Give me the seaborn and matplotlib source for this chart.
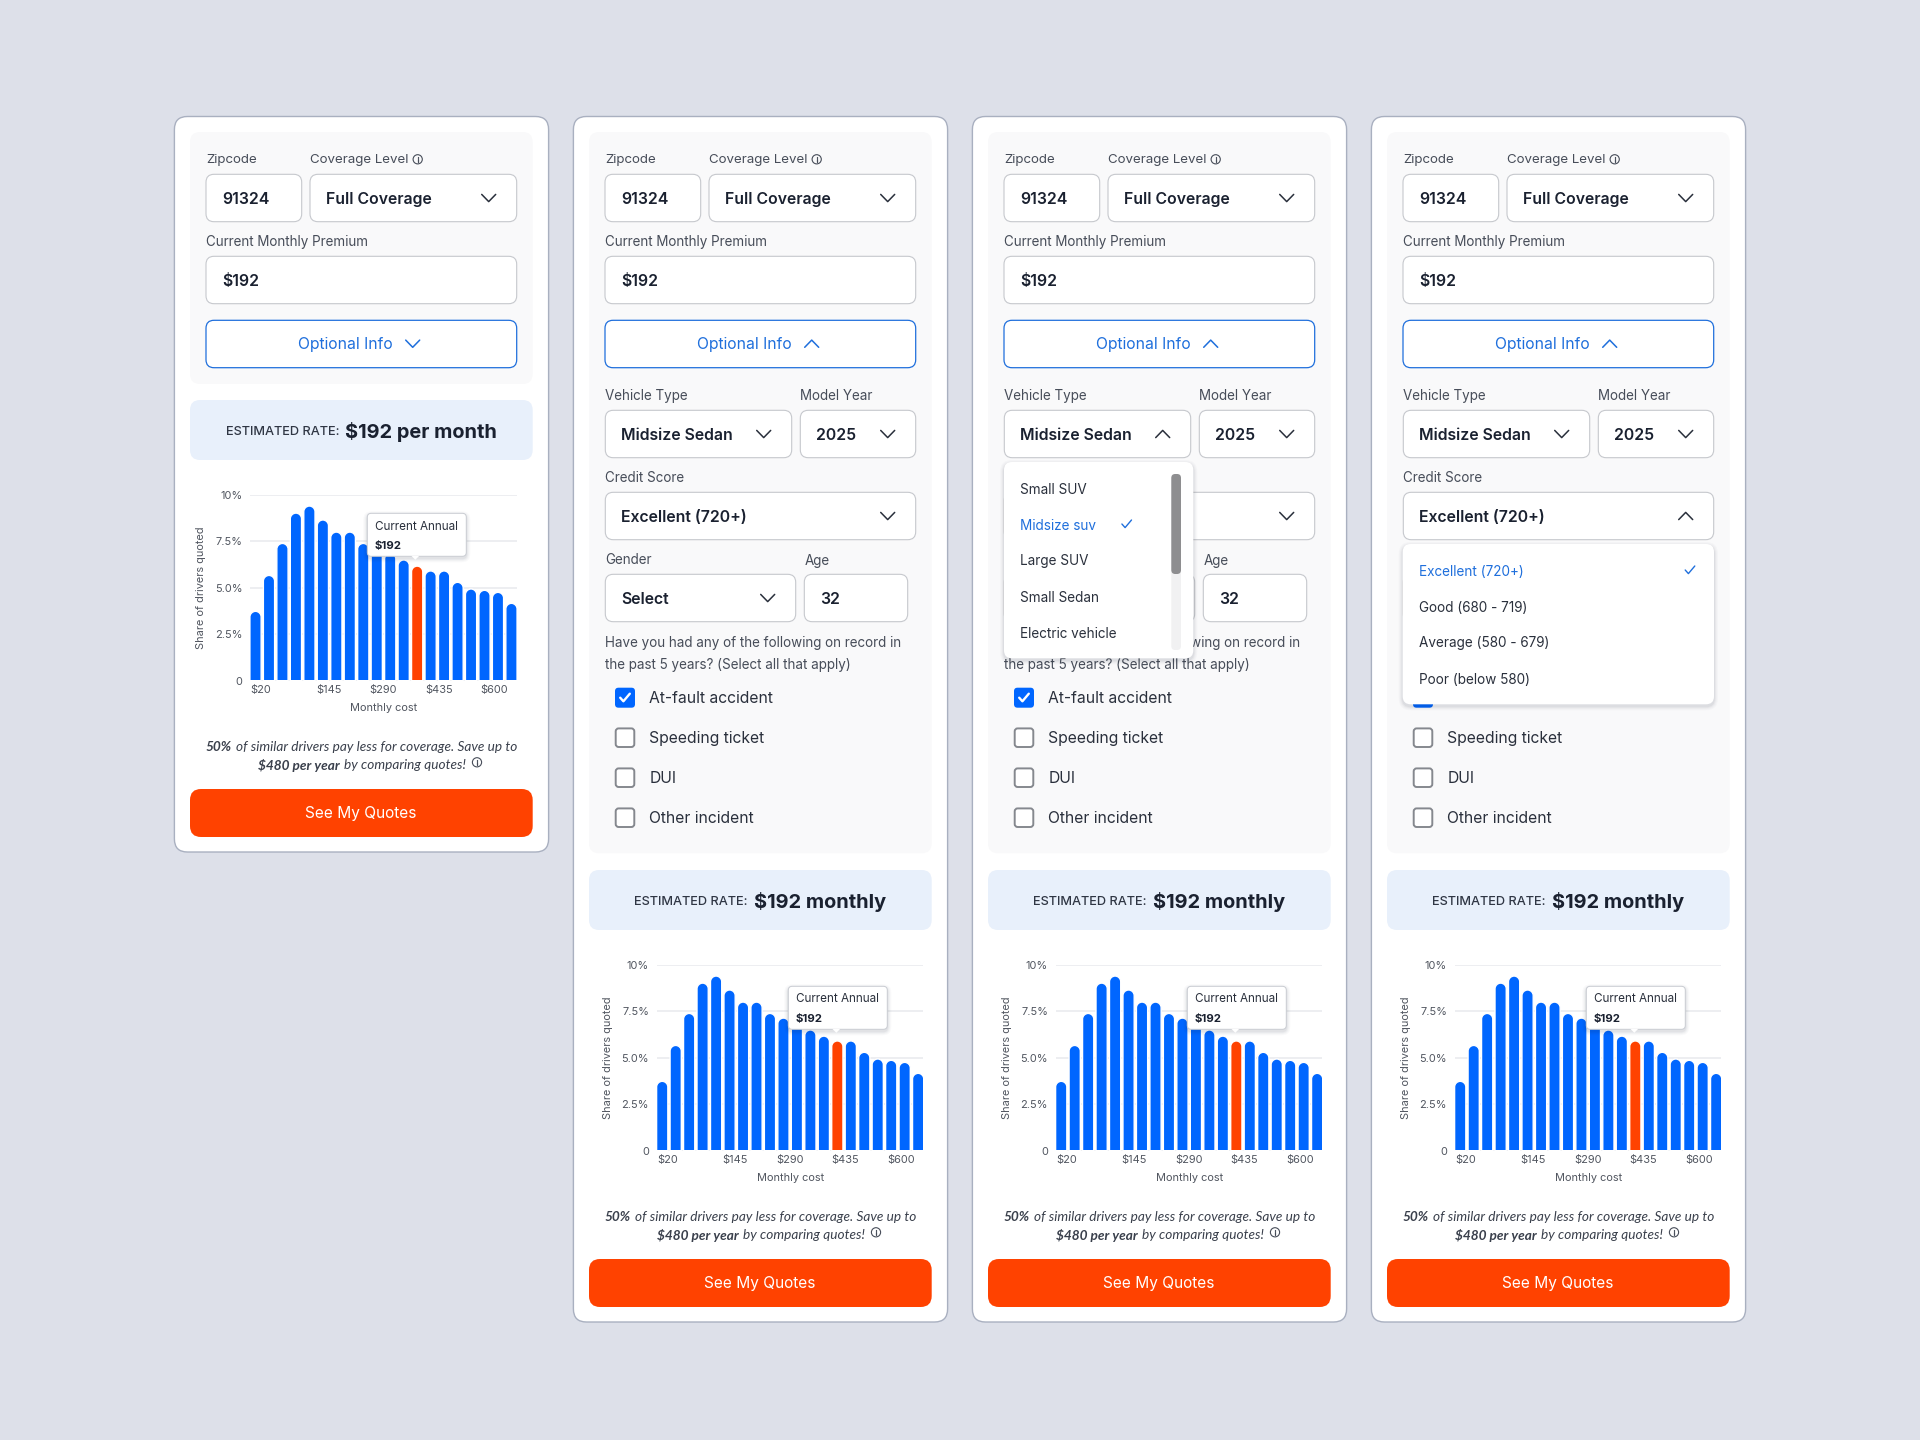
import pandas as pd
import seaborn as sns
import matplotlib
matplotlib.use('Agg')
import matplotlib.pyplot as plt
from matplotlib.patches import FancyBboxPatch, Polygon, Circle
from matplotlib.path import Path

# chart values
share_pct = [3.73, 5.66, 7.38, 9.01, 9.39, 8.64, 7.99, 7.99, 7.38, 7.13,
             6.85, 6.49, 6.16, 5.90, 5.90, 5.29, 4.93, 4.86, 4.75, 4.16]
ytick_values = [0, 2.5, 5, 7.5, 10]
ytick_labels = ['0', '2.5%', '5.0%', '7.5%', '10%']
xtick_labels = ['$20', '$145', '$290', '$435', '$600']

vehicle_options = ['Small SUV', 'Midsize suv', 'Large SUV', 'Small Sedan', 'Electric vehicle']
credit_options = ['Excellent (720+)', 'Good (680 - 719)', 'Average (580 - 679)', 'Poor (below 580)']
incidents = ['At-fault accident', 'Speeding ticket', 'DUI', 'Other incident']
question = ['Have you had any of the following on record in', 'the past 5 years? (Select all that apply)']

BG = '#dde0e9'
BORDER = '#a9b0c0'
PANEL = '#f9f9fa'
FIELD = '#c6c8cd'
DARK = '#1a2130'
LABEL = '#474d59'
AXIS = '#50555f'
BLUE = '#0066ff'
LINK = '#1f6fdc'
BANNER = '#e8f0fb'
ORANGE = '#ff4200'
GRID = '#e8eaee'
NOTE = '#3a404c'

sns.set_theme(style='white')
plt.rcParams['font.family'] = ['Inter', 'Lato', 'DejaVu Sans']

fig = plt.figure(figsize=(19.2, 14.4), dpi=100, facecolor=BG)


def overlay(z):
    a = fig.add_axes([0, 0, 1, 1], zorder=z)
    a.set_xlim(0, 1920)
    a.set_ylim(1440, 0)
    a.axis('off')
    return a


ui = overlay(1)
top = overlay(5)


def box(a, x0, y0, x1, y1, r, fc, ec='none', lw=0, z=1, alpha=None):
    p = FancyBboxPatch((x0 + r, y0 + r), x1 - x0 - 2 * r, y1 - y0 - 2 * r,
                       boxstyle=f'round,pad={r},rounding_size={r}',
                       fc=fc, ec=ec, lw=lw, zorder=z, alpha=alpha)
    a.add_patch(p)
    return p


def shadow(a, x0, y0, x1, y1, r, z):
    for grow, al in [(4, .02), (3, .025), (2, .035), (1, .05)]:
        box(a, x0 - grow, y0 - grow + 2, x1 + grow, y1 + grow + 2, r + grow, '#20283a', z=z, alpha=al)


def txt(a, x, y, s, size=9.7, color=LABEL, weight='normal', z=3, **kw):
    kw.setdefault('va', 'center')
    return a.text(x, y + 1.2, s, fontsize=size, color=color, fontweight=weight, zorder=z, **kw)


def chevron(a, x, y, up=False, color='#2a303c', z=3):
    d = -3.6 if up else 3.6
    a.plot([x - 7, x, x + 7], [y - d, y + d, y - d], color=color, lw=1.1, zorder=z,
           solid_capstyle='round', solid_joinstyle='round')


def tick(a, x, y, color, size=1.0, lw=1.0, z=3):
    a.plot([x - 6 * size, x - 2 * size, x + 6 * size], [y, y + 4.5 * size, y - 5 * size],
           color=color, lw=lw, zorder=z, solid_capstyle='round')


def info(a, x, y, color=LABEL, z=3):
    a.add_patch(Circle((x, y), 4.6, fc='none', ec=color, lw=.8, zorder=z))
    a.plot([x, x], [y - .6, y + 2.4], color=color, lw=.9, zorder=z)
    a.plot([x, x], [y - 2.4, y - 1.8], color=color, lw=.9, zorder=z)


def field(x0, y0, x1, value, vx=None, z=2, arrow=None, up=False):
    y1 = y0 + 47.4
    box(ui, x0, y0, x1, y1, 8, 'white', FIELD, .8, z=z)
    if value:
        txt(ui, x0 + 16 if vx is None else vx, (y0 + y1) / 2, value, 11.4, DARK, 'semibold', z=z + 1)
    if arrow is not None:
        chevron(ui, arrow, (y0 + y1) / 2, up, z=z + 1)


def runs(a, cx, y, parts, gap=4):
    # a line of differently styled pieces, centred on cx
    items = [txt(a, 0, y, s, **kw) for s, kw in parts]
    rend = fig.canvas.get_renderer()
    widths = [t.get_window_extent(rend).width for t in items]
    x = cx - (sum(widths) + gap * (len(items) - 1)) / 2
    for t, w in zip(items, widths):
        t.set_x(x)
        x += w + gap


def round_top(bar, ax):
    # unit-square outline for a Rectangle, with a round cap instead of a flat top
    (x0, y0), (x1, y1) = ax.transData.transform(
        [(bar.get_x(), bar.get_y()), (bar.get_x() + bar.get_width(), bar.get_height())])
    ry = min(1, (x1 - x0) / 2 / (y1 - y0))
    k = .5523
    verts = [(0, 0), (0, 1 - ry), (0, 1 - ry + k * ry), (.5 - .5 * k, 1), (.5, 1),
             (.5 + .5 * k, 1), (1, 1 - ry + k * ry), (1, 1 - ry), (1, 0), (0, 0)]
    codes = [Path.MOVETO, Path.LINETO, Path.CURVE4, Path.CURVE4, Path.CURVE4,
             Path.CURVE4, Path.CURVE4, Path.CURVE4, Path.LINETO, Path.CLOSEPOLY]
    path = Path(verts, codes)
    bar.get_path = lambda: path


def draw_chart(left, top_y, current, tip):
    w, h = 266.7, 186
    ax = fig.add_axes([left / 1920, 1 - (top_y + h) / 1440, w / 1920, h / 1440], zorder=3)
    df = pd.DataFrame({'bucket': list(range(len(share_pct))), 'share': share_pct})
    df['kind'] = ['current' if i == current else 'other' for i in df['bucket']]
    sns.barplot(data=df, x='bucket', y='share', hue='kind', dodge=False, legend=False,
                palette={'other': BLUE, 'current': ORANGE}, saturation=1, width=.835, ax=ax)
    ax.set_xlim(-.41, 19.39)
    ax.set_ylim(0, 10)
    ax.patch.set_visible(False)
    sns.despine(ax=ax, left=True, bottom=True)
    ax.set_axisbelow(True)
    ax.grid(axis='y', color=GRID, lw=1.1)
    ax.grid(axis='x', visible=False)
    ax.set_yticks(ytick_values, ytick_labels)
    ax.set_xticks([.4, 5.43, 9.5, 13.6, 17.7], xtick_labels)
    ax.tick_params(axis='y', length=0, pad=5.5, labelsize=7.9, labelcolor=AXIS)
    ax.tick_params(axis='x', length=0, pad=3.4, labelsize=7.9, labelcolor=AXIS)
    ax.set_xlabel('Monthly cost', fontsize=7.9, color=AXIS, va='center')
    ax.set_ylabel('Share of drivers quoted', fontsize=7.9, color=AXIS, va='center')
    ax.xaxis.set_label_coords(133.7 / w, -27.6 / h)
    ax.yaxis.set_label_coords(-48.7 / w, .5)

    for bar in ax.patches:
        if bar.get_height() > 0:
            round_top(bar, ax)

    tx0, ty0 = tip
    tx1, ty1 = tx0 + 99, ty0 + 43
    shadow(top, tx0, ty0, tx1, ty1, 4, 6)
    box(top, tx0, ty0, tx1, ty1, 4, 'white', '#c9ccd2', .7, z=7)
    top.add_patch(Polygon([(tx0 + 44, ty1 - .5), (tx0 + 52, ty1 - .5), (tx0 + 48, ty1 + 3.5)],
                          fc='white', ec='none', zorder=8))
    txt(top, tx0 + 7.7, ty0 + 12, 'Current Annual', 8.4, '#2a303c', z=8)
    txt(top, tx0 + 6.8, ty0 + 31.2, '$192', 8.2, DARK, 'bold', z=8)


def draw_card(dx, expanded, rate, chart_dx, current, tip, vehicle_up=False, credit_up=False, hidden=()):
    # hidden: texts that sit fully under this card's open dropdown
    def shown(s):
        return '' if s in hidden else s

    dy = 470 if expanded else 0
    box(ui, 174.4 + dx, 116.5, 548.6 + dx, 852 + dy, 13, 'white', BORDER, 1.0)
    box(ui, 190 + dx, 132, 532.7 + dx, 384 if not expanded else 853.3, 10, PANEL, z=1.1)

    txt(ui, 206 + dx, 159.3, 'Zipcode', 9.6)
    txt(ui, 310 + dx, 159.3, 'Coverage Level', 9.6)
    info(ui, 417.7 + dx, 159.3)
    field(206 + dx, 174.3, 301.7 + dx, '91324')
    field(310 + dx, 174.3, 516.7 + dx, 'Full Coverage', arrow=488.7 + dx)
    txt(ui, 206 + dx, 241, 'Current Monthly Premium')
    field(206 + dx, 256.3, 516.7 + dx, '$192')
    box(ui, 206 + dx, 320.3, 516.7 + dx, 367.7, 8, 'white', LINK, .9, z=2)
    txt(ui, 298.3 + dx, 343.7, 'Optional Info', 11.3, LINK)
    chevron(ui, 412.7 + dx, 343.7, up=expanded, color=LINK)

    if expanded:
        x = 206.3 + dx
        txt(ui, x, 395, 'Vehicle Type')
        txt(ui, 401.3 + dx, 395, 'Model Year')
        field(x, 410.3, 392.7 + dx, 'Midsize Sedan', arrow=364.7 + dx, up=vehicle_up)
        field(401.3 + dx, 410.3, 516.7 + dx, '2025', vx=417.3 + dx, arrow=488.7 + dx)
        txt(ui, x, 477, shown('Credit Score'))
        field(x, 492.3, 516.7 + dx, shown('Excellent (720+)'), arrow=488.7 + dx, up=credit_up)
        txt(ui, x, 559.3, shown('Gender'))
        txt(ui, 405.3 + dx, 559.3, shown('Age'))
        field(x, 574.3, 396.7 + dx, shown('Select'), arrow=368.7 + dx)
        field(405.3 + dx, 574.3, 508.7 + dx, shown('32'))
        txt(ui, x, 641.3, shown(question[0]))
        txt(ui, x, 663.3, shown(question[1]))
        for i, name in enumerate(incidents):
            y = 697.7 + 40 * i
            if i == 0:
                box(ui, 216 + dx, y - 10, 236 + dx, y + 10, 3.5, BLUE, z=2)
                tick(ui, 226 + dx, y, 'white', .8, 1.7)
            else:
                box(ui, 216.7 + dx, y - 9.3, 235.3 + dx, y + 9.3, 3, 'white', '#85888e', 1.4, z=2)
            txt(ui, 250.3 + dx, y, name, 11.3, '#2a303c')

    box(ui, 190 + dx, 400 + dy, 532.7 + dx, 460 + dy, 10, BANNER, z=1.1)
    runs(ui, 361.3 + dx, 431 + dy, [('ESTIMATED RATE:', dict(size=9.2, color='#2f3644', weight='medium')),
                                    (rate, dict(size=14.4, color=DARK, weight='bold'))], gap=6)

    draw_chart(250 + chart_dx + dx, 494.7 + dy, current, tip)

    italic = dict(size=9.85, color=NOTE, style='italic', family=['Lato', 'DejaVu Sans'])
    bold_italic = dict(italic, weight='bold')
    runs(ui, 361.3 + dx, 746 + dy, [('50%', bold_italic),
                                    ('of similar drivers pay less for coverage. Save up to', italic)])
    runs(ui, 361.7 + dx, 764 + dy, [('$480 per year', bold_italic),
                                    ('by comparing quotes!', italic)])
    info(ui, 477 + dx, 762.3 + dy)
    box(ui, 190 + dx, 789 + dy, 532.7 + dx, 837 + dy, 11, ORANGE, z=2)
    txt(ui, 360.8 + dx, 812.3 + dy, 'See My Quotes', 11.1, 'white', ha='center')


draw_card(0, False, '$192 per month', 0, 12, (367.3, 513.3))
draw_card(399, True, '$192 monthly', 7.7, 13, (788.3, 986.3))
draw_card(798, True, '$192 monthly', 7.7, 13, (1187.3, 986.3), vehicle_up=True,
          hidden=('Credit Score', 'Excellent (720+)', 'Gender', 'Select'))
draw_card(1197, True, '$192 monthly', 7.7, 13, (1586.3, 986.3), credit_up=True,
          hidden=('Gender', 'Age', 'Select', '32', question[0], question[1]))

# vehicle type dropdown on the third card
shadow(ui, 1004, 462, 1193.3, 658.3, 8, 9)
box(ui, 1004, 462, 1193.3, 658.3, 8, 'white', z=10)
box(ui, 1171.3, 474, 1181, 650, 4, '#f1f1f2', z=11)
box(ui, 1171.3, 474, 1181, 574, 4, '#8e8e90', z=12)
for i, name in enumerate(vehicle_options):
    txt(ui, 1020.3, 488.3 + 36 * i, name, 9.75, LINK if i == 1 else '#2a303c', z=11)
tick(ui, 1126.7, 524, LINK, .8, z=11)

# credit score dropdown on the last card
shadow(ui, 1402.7, 544, 1714, 704.3, 8, 9)
box(ui, 1402.7, 544, 1714, 704.3, 8, 'white', z=10)
for i, name in enumerate(credit_options):
    txt(ui, 1419.3, 570.3 + 36 * i, name, 9.75, LINK if i == 0 else '#2a303c', z=11)
tick(ui, 1690, 570, LINK, .8, z=11)

fig.savefig('out.png', dpi=100, facecolor=BG)
